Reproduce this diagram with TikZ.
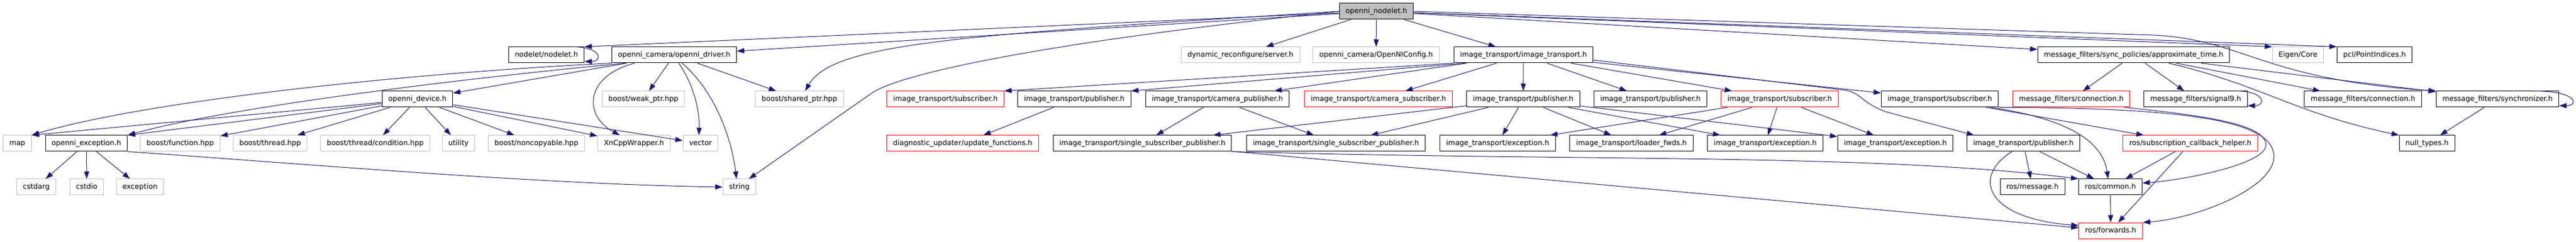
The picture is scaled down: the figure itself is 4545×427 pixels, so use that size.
\documentclass[tikz,border=0pt]{standalone}
\usepackage{fontspec}
\newfontfamily\hdrfont{DejaVu Sans}
\usetikzlibrary{arrows.meta}
\definecolor{EdgeClr}{RGB}{25,25,112}
\definecolor{ExtClr}{RGB}{191,191,191}
\definecolor{RootClr}{RGB}{191,191,191}
\definecolor{TruncClr}{RGB}{255,0,0}

\begin{document}
\begin{tikzpicture}[x=1pt,y=-1pt]
\tikzset{hdr/.style={draw=black,fill=white,line width=1pt,minimum height=28pt,inner xsep=11pt,inner ysep=0pt,
    text height=9.5pt,text depth=2.7pt,font=\hdrfont\fontsize{12.6}{15}\selectfont},
  ext/.style={hdr,draw=ExtClr},
  trunc/.style={hdr,draw=TruncClr},
  rootbox/.style={hdr,fill=RootClr},
  dep/.style={draw=EdgeClr,line width=1pt,-{Triangle[length=13pt,width=9pt]}}}

\useasboundingbox (0,0) rectangle (4545,427);

\node[rootbox] (root) at (2428.5,20) {openni\_nodelet.h};

\node[hdr] (nodelet) at (964,97) {nodelet/nodelet.h};
\node[hdr] (driver) at (1189.5,97) {openni\_camera/openni\_driver.h};
\node[ext] (dynrec) at (2188.5,97) {dynamic\_reconfigure/server.h};
\node[ext] (oniconfig) at (2428,97) {openni\_camera/OpenNIConfig.h};
\node[hdr] (itmain) at (2688,97) {image\_transport/image\_transport.h};
\node[hdr] (approx) at (3764.5,97) {message\_filters/sync\_policies/approximate\_time.h};
\node[ext] (eigen) at (4054.5,97) {Eigen/Core};
\node[hdr] (pclidx) at (4189.5,97) {pcl/PointIndices.h};

\node[hdr] (device) at (736.5,175) {openni\_device.h};
\node[ext] (weakptr) at (1135,175) {boost/weak\_ptr.hpp};
\node[ext] (sharedptr) at (1410.5,175) {boost/shared\_ptr.hpp};
\node[trunc] (itsubA) at (1668,175) {image\_transport/subscriber.h};
\node[hdr] (itpubA) at (1895.5,175) {image\_transport/publisher.h};
\node[hdr] (itcampub) at (2148,175) {image\_transport/camera\_publisher.h};
\node[trunc] (itcamsub) at (2432,175) {image\_transport/camera\_subscriber.h};
\node[hdr] (itpubB) at (2687.5,175) {image\_transport/publisher.h};
\node[hdr] (itpubC) at (2912,175) {image\_transport/publisher.h};
\node[trunc] (itsubB) at (3140,175) {image\_transport/subscriber.h};
\node[hdr] (itsubC) at (3422.5,175) {image\_transport/subscriber.h};
\node[trunc] (mfconnA) at (3654.5,175) {message\_filters/connection.h};
\node[hdr] (mfsignal) at (3874,175) {message\_filters/signal9.h};
\node[hdr] (mfconnB) at (4169,175) {message\_filters/connection.h};
\node[hdr] (mfsync) at (4406.5,175) {message\_filters/synchronizer.h};

\node[ext] (map) at (30.5,253) {map};
\node[hdr] (exc) at (152.5,253) {openni\_exception.h};
\node[ext] (bfunc) at (318,253) {boost/function.hpp};
\node[ext] (bthread) at (476.5,253) {boost/thread.hpp};
\node[ext] (bcond) at (662,253) {boost/thread/condition.hpp};
\node[ext] (utility) at (809,253) {utility};
\node[ext] (bnoncopy) at (946.5,253) {boost/noncopyable.hpp};
\node[ext] (xncpp) at (1118.5,253) {XnCppWrapper.h};
\node[ext] (vector) at (1236,253) {vector};
\node[trunc] (diag) at (1698.5,253) {diagnostic\_updater/update\_functions.h};
\node[hdr] (sspA) at (2015.5,253) {image\_transport/single\_subscriber\_publisher.h};
\node[hdr] (sspB) at (2357,253) {image\_transport/single\_subscriber\_publisher.h};
\node[hdr] (itexcA) at (2642.5,253) {image\_transport/exception.h};
\node[hdr] (itloader) at (2878.5,253) {image\_transport/loader\_fwds.h};
\node[hdr] (itexcB) at (3114.5,253) {image\_transport/exception.h};
\node[hdr] (itexcC) at (3344,253) {image\_transport/exception.h};
\node[hdr] (itpubD) at (3570,253) {image\_transport/publisher.h};
\node[trunc] (roscb) at (3864.5,253) {ros/subscription\_callback\_helper.h};
\node[hdr] (nulltypes) at (4282,253) {null\_types.h};

\node[ext] (cstdarg) at (64,330) {cstdarg};
\node[ext] (cstdio) at (153,330) {cstdio};
\node[ext] (exception) at (247,330) {exception};
\node[ext] (string) at (1304.5,330) {string};
\node[hdr] (rosmsg) at (3586,330) {ros/message.h};
\node[hdr] (roscommon) at (3723.5,330) {ros/common.h};

\node[trunc] (rosfwd) at (3724,407) {ros/forwards.h};

\draw[dep] (root) -- (nodelet.north east);
\draw[dep] (root) -- (driver);
\draw[dep] (root.west) .. controls (1700,62) and (1470,75) .. ([xshift=10pt]sharedptr.north);
\draw[dep] (root.west) .. controls (1750,85) and (1575,140) .. (1540,163) -- ([xshift=17pt]string.north);
\draw[dep] (root) -- (dynrec);
\draw[dep] (root) -- (oniconfig);
\draw[dep] (root) -- (itmain);
\draw[dep] (root) -- (approx);
\draw[dep] (root) -- (eigen.north west);
\draw[dep] (root) -- (pclidx.north west);
\draw[dep] (root.east) -- (3800,62) .. controls (3960,70) and (3990,140) .. (mfsync.north west);

\draw[dep] ([xshift=-23pt]nodelet.north east) .. controls +(55,0) and +(32,0) .. ([yshift=3pt]nodelet.south east);

\draw[dep] (driver) -- (device);
\draw[dep] (driver.south west) .. controls (700,130) and (250,180) .. (map.north east);
\draw[dep] ([xshift=24pt]driver.south west) .. controls (800,140) and (400,190) .. (exc.north east);
\draw[dep] ([xshift=-70pt]driver.south) .. controls (1030,135) and (1030,205) .. ([xshift=-25pt]xncpp.north);
\draw[dep] (driver) -- (weakptr);
\draw[dep] ([xshift=8pt]driver.south) .. controls (1225,150) and (1235,200) .. ([xshift=-3pt]vector.north);
\draw[dep] ([xshift=14pt]driver.south) .. controls (1260,160) and (1290,240) .. ([xshift=-5pt]string.north);
\draw[dep] (driver) -- (sharedptr);

\draw[dep] (device) -- (map.north east);
\draw[dep] (device) -- (exc.north east);
\draw[dep] (device) -- (bfunc);
\draw[dep] (device) -- (bthread);
\draw[dep] (device) -- (bcond);
\draw[dep] (device) -- (utility);
\draw[dep] (device) -- (bnoncopy);
\draw[dep] (device) -- (xncpp);
\draw[dep] (device) -- (vector);

\draw[dep] (exc) -- (cstdarg);
\draw[dep] (exc) -- (cstdio);
\draw[dep] (exc) -- (exception);
\draw[dep] (exc.south east) .. controls (550,290) and (950,325) .. (string.west);

\draw[dep] (itmain.south west) -- (itsubA.north east);
\draw[dep] ([xshift=20pt]itmain.south west) -- (itpubA.north east);
\draw[dep] (itmain) -- (itcampub);
\draw[dep] (itmain) -- (itcamsub);
\draw[dep] (itmain) -- (itpubB);
\draw[dep] (itmain) -- (itpubC);
\draw[dep] (itmain) -- (itsubB);
\draw[dep] (itmain) -- (itsubC);
\draw[dep] ([yshift=-9pt]itmain.east) -- (3255,159) .. controls (3285,164) and (3285,183) .. (3330,198) -- ([xshift=13pt]itpubD.north west);

\draw[dep] (itpubA) -- (diag);
\draw[dep] (itcampub) -- (sspA);
\draw[dep] (itcampub) -- (sspB);
\draw[dep] (itpubB) -- (sspA);
\draw[dep] (itpubB) -- (sspB);
\draw[dep] (itpubB) -- (itexcA);
\draw[dep] (itpubB) -- (itloader);
\draw[dep] (itpubB) -- (itexcB);
\draw[dep] (itpubB) -- (itexcC);
\draw[dep] (itsubB) -- (itexcA);
\draw[dep] (itsubB) -- (itloader);
\draw[dep] (itsubB) -- (itexcB);
\draw[dep] (itsubB) -- (itexcC);

\draw[dep] (itsubC) -- (roscb);
\draw[dep] ([xshift=90pt]itsubC.south) .. controls (3650,210) and (3710,250) .. ([xshift=-4pt]roscommon.north);
\draw[dep] (itsubC.south east) .. controls (3870,190) and (4010,215) .. (4012,275) .. controls (4014,330) and (3880,385) .. (rosfwd.north east);
\draw[dep] ([xshift=-9pt]mfconnA.south east) .. controls (3900,205) and (3995,220) .. (3998,255) .. controls (4000,290) and (3850,318) .. ([yshift=7pt]roscommon.east);

\draw[dep] (approx) -- (mfconnA);
\draw[dep] (approx) -- (mfsignal);
\draw[dep] (approx) -- (mfconnB);
\draw[dep] (approx) -- (mfsync);
\draw[dep] ([xshift=62pt]approx.south) .. controls (3990,150) and (4050,200) .. (nulltypes.north west);
\draw[dep] ([xshift=-22pt]mfsignal.north east) .. controls +(55,0) and +(32,0) .. ([yshift=3pt]mfsignal.south east);
\draw[dep] ([xshift=-46pt]mfsync.north east) .. controls +(80,0) and +(35,0) .. ([yshift=3pt]mfsync.south east);
\draw[dep] (mfsync) -- (nulltypes);

\draw[dep] (roscb) -- (roscommon);
\draw[dep] (roscb) -- (rosfwd);
\draw[dep] (itpubD) -- (rosmsg);
\draw[dep] (itpubD) -- (roscommon);
\draw[dep] ([xshift=-20pt]itpubD.south) .. controls (3480,310) and (3500,385) .. ([yshift=9pt]rosfwd.west);
\draw[dep] (roscommon) -- (rosfwd);
\draw[dep] (sspA.south east) .. controls (2800,285) and (3300,270) .. (roscommon.north west);
\draw[dep] (sspA) -- (rosfwd);

\end{tikzpicture}
\end{document}
